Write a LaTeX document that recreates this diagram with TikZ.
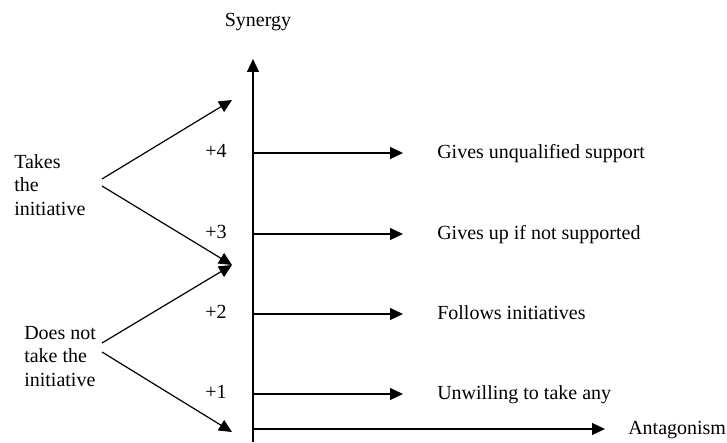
\documentclass[tikz,border=0pt]{standalone}
\usepackage{fontspec}
\setmainfont{Liberation Serif}
\usetikzlibrary{arrows.meta}
\tikzset{
  lab/.style={inner sep=0pt, font=\fontsize{15}{17.6}\selectfont},
  arr/.style={line width=0.9pt, -{Triangle[length=9.75pt,width=9pt]}},
}
\begin{document}
\begin{tikzpicture}[x=0.75pt,y=-0.75pt]
\useasboundingbox (0,0) rectangle (727,442);

% vertical axis: synergy
\coordinate (o) at (253,442);
\coordinate (ytop) at (253,59);
\draw[arr] (o) -- (ytop);
\node[lab,anchor=base] (syn) at (258,27) {Synergy};

% horizontal axis: antagonism
\coordinate (a0) at (253,429);
\coordinate (b0) at (605,429);
\draw[arr] (a0) -- (b0);
\node[lab,anchor=base west] (ant) at (628,434) {Antagonism};

% levels +4 .. +1
\coordinate (a4) at (253,153); \coordinate (b4) at (403,153);
\coordinate (a3) at (253,234); \coordinate (b3) at (403,234);
\coordinate (a2) at (253,314); \coordinate (b2) at (403,314);
\coordinate (a1) at (253,394); \coordinate (b1) at (403,394);
\draw[arr] (a4) -- (b4);
\draw[arr] (a3) -- (b3);
\draw[arr] (a2) -- (b2);
\draw[arr] (a1) -- (b1);

\node[lab,anchor=base west] (n4) at (205,157) {+4};
\node[lab,anchor=base west] (n3) at (205,238) {+3};
\node[lab,anchor=base west] (n2) at (205,318) {+2};
\node[lab,anchor=base west] (n1) at (205,398) {+1};

\node[lab,anchor=base west] (t4) at (437,158) {Gives unqualified support};
\node[lab,anchor=base west] (t3) at (437,239) {Gives up if not supported};
\node[lab,anchor=base west] (t2) at (437,319) {Follows initiatives};
\node[lab,anchor=base west] (t1) at (437,399) {Unwilling to take any};

% initiative branches
\node[lab,anchor=north west,align=left] (takes) at (14,154.3) {Takes\\the\\initiative};
\node[lab,anchor=north west,align=left] (notake) at (24,325.8) {Does not\\take the\\initiative};

\coordinate (ts1) at (102,179);
\coordinate (ts2) at (102,186);
\coordinate (ns1) at (102,343);
\coordinate (ns2) at (102,352);
\coordinate (tip1) at (232,100);
\coordinate (tipm) at (232,265);
\coordinate (tip2) at (232,432);

\draw[arr] (ts1) -- (tip1);
\draw[arr] (ts2) -- (tipm);
\draw[arr] (ns1) -- (tipm);
\draw[arr] (ns2) -- (tip2);
\end{tikzpicture}
\end{document}
